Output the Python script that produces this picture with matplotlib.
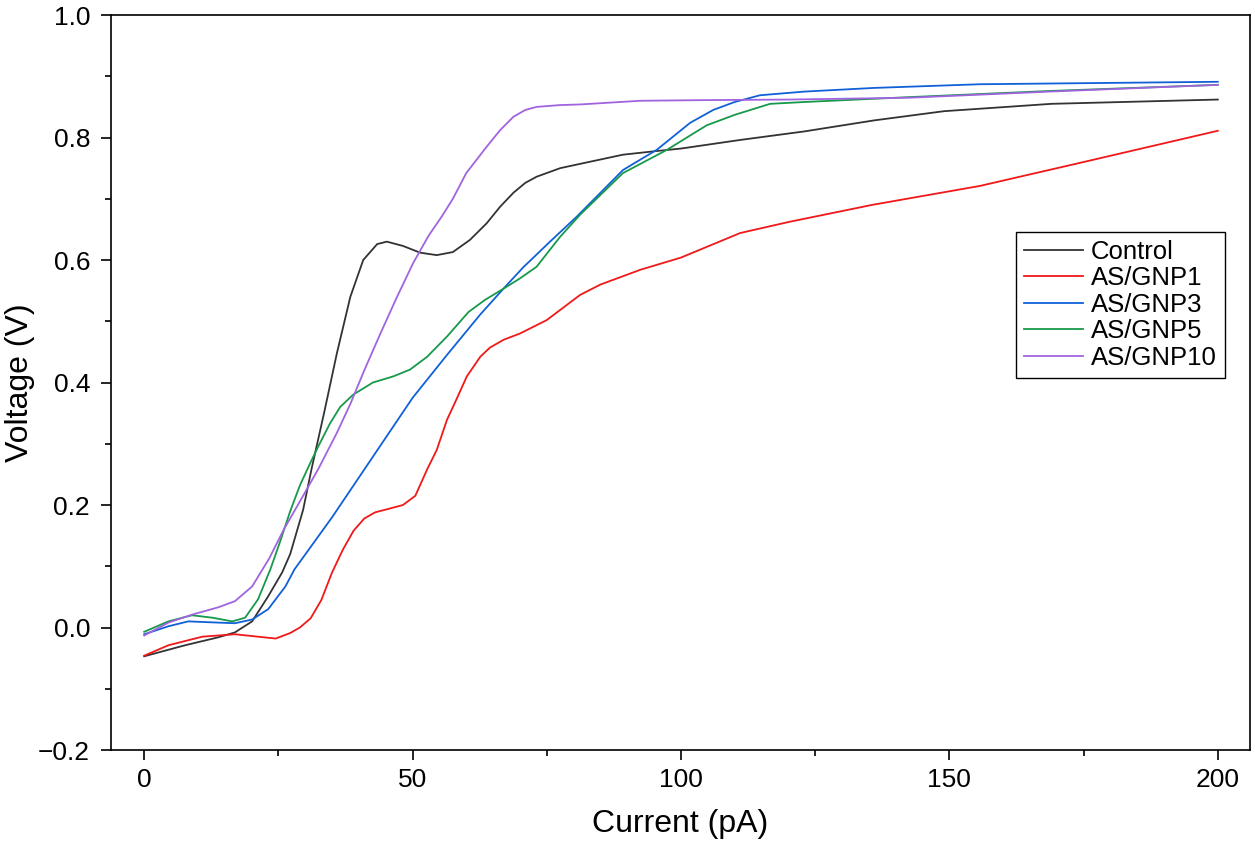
import numpy as np
import matplotlib
matplotlib.use('Agg')
import matplotlib.pyplot as plt
from matplotlib.ticker import MultipleLocator, FuncFormatter

plt.rcParams['font.family'] = ['Liberation Sans', 'DejaVu Sans']

# values
control_x = [0, 7.6, 13.8, 16.9, 20.1, 23.1, 25.7, 27.2, 29.6, 31.2, 33.5, 35.9, 38.4, 40.8, 43.4,
             45.2, 48.2, 51.4, 54.5, 57.5, 60.7, 63.8, 66.3, 68.8, 71, 73.1, 77.5, 81.2, 89.2, 95.5,
             100, 111, 123, 136, 149, 169, 200]
control_y = [-0.047, -0.029, -0.016, -0.008, 0.01, 0.051, 0.09, 0.12, 0.192, 0.26, 0.35, 0.448, 0.54,
             0.6, 0.626, 0.63, 0.623, 0.612, 0.608, 0.613, 0.633, 0.66, 0.687, 0.71, 0.726, 0.736,
             0.75, 0.757, 0.772, 0.778, 0.782, 0.796, 0.81, 0.828, 0.843, 0.855, 0.862]

gnp1_x = [0, 4.5, 10.8, 16.9, 21.2, 24.5, 27.2, 29, 31, 33, 35, 37, 39, 41, 43, 45.2, 48.2, 50.5,
          52.7, 54.5, 56.4, 58.3, 60.1, 62.6, 64.4, 67, 70, 75, 81.2, 85, 92.4, 100, 111, 120,
          135.6, 155.7, 175, 200]
gnp1_y = [-0.046, -0.029, -0.015, -0.011, -0.015, -0.018, -0.009, 0.0, 0.015, 0.045, 0.09, 0.127,
          0.158, 0.178, 0.188, 0.193, 0.2, 0.215, 0.258, 0.29, 0.339, 0.375, 0.41, 0.442, 0.457,
          0.47, 0.48, 0.502, 0.543, 0.56, 0.584, 0.604, 0.644, 0.662, 0.69, 0.721, 0.76, 0.811]

gnp3_x = [0, 4.5, 8.2, 13.8, 16.9, 20.1, 23.1, 26.3, 28, 35, 40, 45, 50, 56.4, 62.6, 66.9, 70.6,
          75.6, 80.6, 89.2, 95.5, 101.7, 106, 110, 114.7, 123, 136, 155.7, 200]
gnp3_y = [-0.011, 0.002, 0.01, 0.008, 0.007, 0.013, 0.03, 0.067, 0.095, 0.18, 0.245, 0.31, 0.375,
          0.445, 0.511, 0.553, 0.588, 0.63, 0.671, 0.747, 0.78, 0.824, 0.845, 0.858, 0.869, 0.875,
          0.881, 0.887, 0.891]

gnp5_x = [0, 4.5, 8.9, 12.7, 16.4, 18.8, 21.2, 23.5, 25.3, 27.2, 29, 30.9, 32.5, 34.6, 36.5, 38.9,
          42.6, 46.4, 49.5, 52.7, 56.4, 60.4, 63.5, 66.9, 70, 73.1, 75.6, 77.5, 81.2, 89.2, 97.4,
          104.8, 110, 116.6, 123, 142.6, 168.7, 200]
gnp5_y = [-0.007, 0.01, 0.02, 0.016, 0.01, 0.016, 0.046, 0.095, 0.14, 0.19, 0.232, 0.268, 0.297,
          0.333, 0.36, 0.38, 0.4, 0.41, 0.421, 0.442, 0.475, 0.515, 0.535, 0.553, 0.57, 0.589,
          0.617, 0.638, 0.674, 0.742, 0.78, 0.82, 0.837, 0.855, 0.858, 0.866, 0.876, 0.886]

gnp10_x = [0, 4.5, 8.9, 13.8, 16.9, 20.1, 23.3, 26, 29.6, 32.5, 35.9, 38.4, 41, 44, 47, 50.1, 53,
           55.5, 57.5, 60, 63.8, 66.3, 68.8, 71, 73.1, 77.5, 81.2, 92.4, 103.5, 120, 142.6, 168.7,
           200]
gnp10_y = [-0.013, 0.008, 0.021, 0.033, 0.043, 0.067, 0.113, 0.16, 0.215, 0.26, 0.318, 0.365, 0.42,
           0.48, 0.538, 0.595, 0.64, 0.672, 0.7, 0.742, 0.785, 0.812, 0.834, 0.845, 0.85, 0.853,
           0.854, 0.86, 0.861, 0.862, 0.865, 0.875, 0.886]

series = [
    ('Control', control_x, control_y, '#333333'),
    ('AS/GNP1', gnp1_x, gnp1_y, '#f01818'),
    ('AS/GNP3', gnp3_x, gnp3_y, '#1060d8'),
    ('AS/GNP5', gnp5_x, gnp5_y, '#17994a'),
    ('AS/GNP10', gnp10_x, gnp10_y, '#a064e0'),
]

fig = plt.figure(figsize=(12.55, 8.49), dpi=100)
ax = fig.add_axes([0.0884, 0.1166, 0.9076, 0.8657])

for name, xs, ys, col in series:
    ax.plot(xs, ys, color=col, lw=1.3, label=name, solid_joinstyle='round')

ax.set_xlim(-6.2, 206)
ax.set_ylim(-0.2, 1.0)
ax.xaxis.set_major_locator(MultipleLocator(50))
ax.xaxis.set_minor_locator(MultipleLocator(25))
ax.yaxis.set_major_locator(MultipleLocator(0.2))
ax.yaxis.set_minor_locator(MultipleLocator(0.1))
ax.yaxis.set_major_formatter(FuncFormatter(lambda v, p: f'{v:.1f}'.replace('-', '\u2212')))

for s in ax.spines.values():
    s.set_linewidth(1.2)
ax.tick_params(which='both', direction='out', top=False, right=False, width=1.2, labelsize=19)
ax.tick_params(which='major', length=7)
ax.tick_params(axis='y', which='major', pad=8)
ax.tick_params(axis='x', which='major', pad=6)
ax.tick_params(which='minor', length=4)

ax.set_xlabel('Current (pA)', fontsize=23, labelpad=12)
ax.set_ylabel('Voltage (V)', fontsize=23, labelpad=2)

leg = ax.legend(loc='upper left', bbox_to_anchor=(0.795, 0.705), borderaxespad=0, fontsize=18.5,
                fancybox=False, edgecolor='black', framealpha=1, handlelength=2.3,
                handletextpad=0.3, labelspacing=0.1, borderpad=0.3)
leg.get_frame().set_linewidth(1.0)

fig.savefig('out.png', dpi=100)
